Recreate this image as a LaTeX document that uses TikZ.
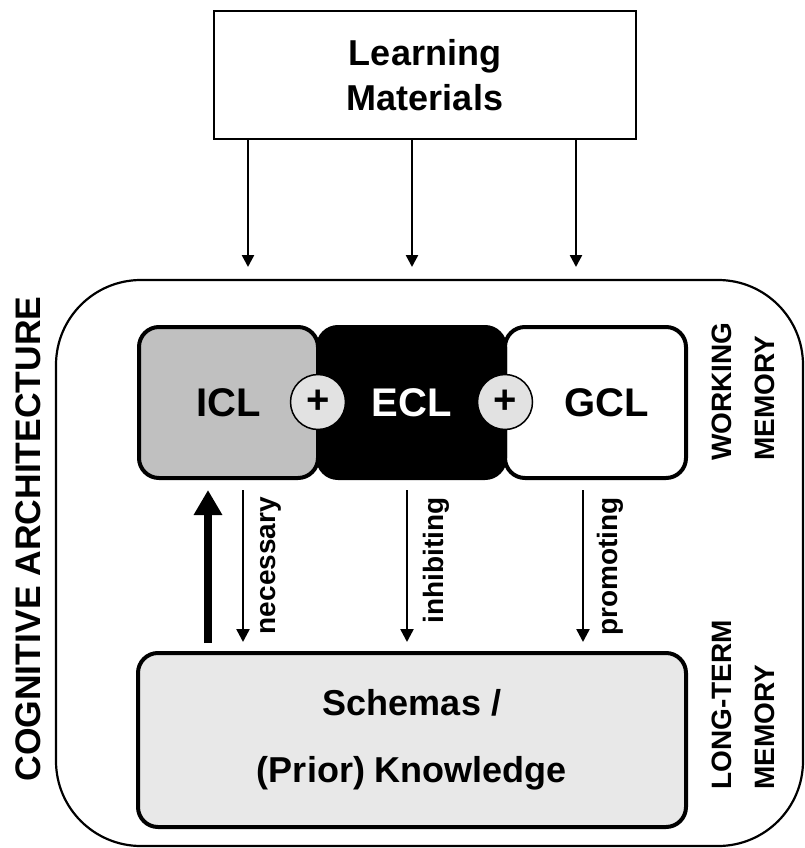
\documentclass[tikz,border=0pt]{standalone}
\usepackage{fontspec}
\setmainfont{Liberation Sans}
\usetikzlibrary{arrows.meta}
\definecolor{iclgray}{HTML}{C0C0C0}
\definecolor{ltmgray}{HTML}{E8E8E8}
\definecolor{plusgray}{HTML}{E2E2E2}
\begin{document}
\begin{tikzpicture}[x=1pt,y=-1pt,
  matbox/.style={draw, line width=2.5pt, rectangle, inner sep=0pt, align=center},
  archbox/.style={draw, line width=2.2pt, rectangle, rounded corners=85pt, inner sep=0pt},
  loadbox/.style={draw, line width=4pt, rectangle, rounded corners=20pt, inner sep=0pt,
                  minimum height=151pt},
  plusdisc/.style={circle, draw, line width=1.5pt, fill=plusgray, minimum size=55pt, inner sep=0pt,
                   font=\fontsize{40}{48}\selectfont\bfseries},
  thinarrow/.style={line width=2.5pt, -{Triangle[width=13pt,length=13pt]}},
  bigarrow/.style={line width=8pt, -{Triangle[width=27pt,length=25pt]}},
  sidelabel/.style={rotate=90, inner sep=0pt, align=left, anchor=south west,
                    font=\fontsize{28}{43}\selectfont\bfseries},
  arrowlabel/.style={rotate=90, inner sep=0pt, anchor=base east,
                     font=\fontsize{28}{34}\selectfont\bfseries}
]
\useasboundingbox (0,0) rectangle (805,848);

% learning materials
\node[matbox, minimum width=422pt, minimum height=128pt,
      font=\fontsize{36}{45}\selectfont\bfseries] (lm) at (425,75) {Learning\\Materials};

% cognitive architecture frame
\node[archbox, minimum width=747pt, minimum height=566pt] (arch) at (429.5,563) {};
\node[rotate=90, inner sep=0pt, font=\fontsize{35.5}{40}\selectfont\bfseries] (archlabel) at (28,539)
  {COGNITIVE ARCHITECTURE};

% incoming arrows
\coordinate (in1) at (248,267);
\coordinate (in2) at (412,267);
\coordinate (in3) at (576,267);
\foreach \c in {in1,in2,in3}
  \draw[line width=2.5pt, -{Triangle[width=12pt,length=12pt]}] (lm.south -| \c) -- (\c);

% working memory: three load types
\node[loadbox, fill=iclgray, minimum width=179pt, font=\fontsize{40}{48}\selectfont\bfseries]
  (icl) at (228.5,402.5) {ICL};
\node[loadbox, fill=white, minimum width=181pt, font=\fontsize{40}{48}\selectfont\bfseries]
  (gcl) at (595.5,402.5) {\hspace*{22pt}GCL};
\node[loadbox, fill=black, text=white, minimum width=187pt, font=\fontsize{40}{48}\selectfont\bfseries]
  (ecl) at (411.5,402.5) {ECL};
\node[plusdisc] (p1) at (318,402) {+};
\node[plusdisc] (p2) at (505,402) {+};

\node[sidelabel] (wm) at (775,461) {WORKING\\MEMORY};

% long-term memory
\node[loadbox, fill=ltmgray, minimum width=548pt, minimum height=174pt, align=center,
      font=\fontsize{36}{67}\selectfont\bfseries] (ltm) at (412,740)
  {Schemas /\\(Prior) Knowledge};
\node[sidelabel] (lt) at (775,790) {LONG-TERM\\MEMORY};

% exchange between the memories
\coordinate (up) at (208,0);
\coordinate (d1) at (243,0);
\coordinate (d2) at (407,0);
\coordinate (d3) at (583,0);
\draw[bigarrow, shorten <=8pt, shorten >=10pt] (ltm.north -| up) -- (icl.south -| up);
\draw[thinarrow, shorten <=10pt, shorten >=9pt] (icl.south -| d1) -- (ltm.north -| d1);
\draw[thinarrow, shorten <=10pt, shorten >=9pt] (ecl.south -| d2) -- (ltm.north -| d2);
\draw[thinarrow, shorten <=10pt, shorten >=9pt] (gcl.south -| d3) -- (ltm.north -| d3);

\node[arrowlabel] (nec) at (275,497) {necessary};
\node[arrowlabel] (inh) at (443,497) {inhibiting};
\node[arrowlabel] (pro) at (617,497) {promoting};
\end{tikzpicture}
\end{document}
